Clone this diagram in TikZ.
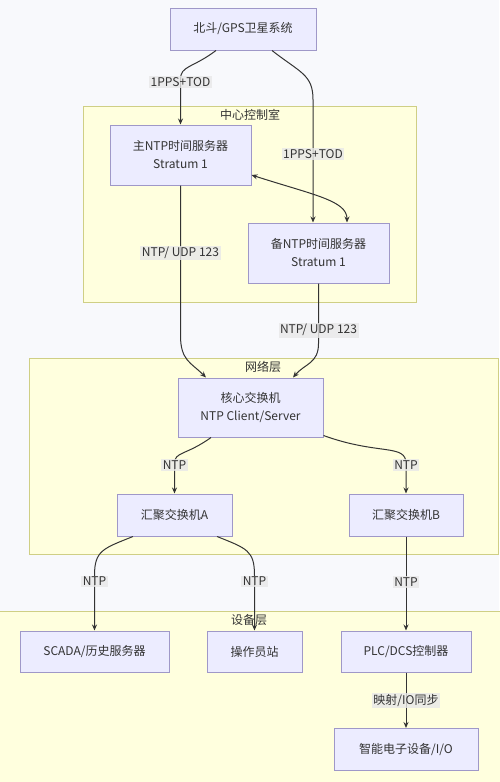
\documentclass[tikz,border=0pt]{standalone}
\usepackage{fontspec}
\setmainfont{Noto Sans CJK SC}
\usetikzlibrary{arrows.meta,calc}
\definecolor{bgcol}{HTML}{F8F9FC}
\definecolor{groupfill}{HTML}{FFFFDE}
\definecolor{groupline}{HTML}{CFCF85}
\definecolor{nodefill}{HTML}{ECECFF}
\definecolor{nodeline}{HTML}{9F98C8}
\definecolor{edgecol}{HTML}{333333}
\definecolor{lblfill}{HTML}{E8E8E8}
\definecolor{textcol}{HTML}{333333}
\begin{document}
\begin{tikzpicture}[x=1pt, y=-1pt,
            font=\fontsize{12}{18}\selectfont,
            box/.style={draw=nodeline, fill=nodefill, text=textcol, align=center, inner sep=0pt, line width=1pt},
            group/.style={draw=groupline, fill=groupfill, line width=1pt},
            grouptitle/.style={text=textcol, inner sep=0pt},
            edge/.style={draw=edgecol, line width=1pt, -{Stealth[length=6pt,width=5pt]}},
            lbl/.style={fill=lblfill, fill opacity=0.8, text opacity=1, inner sep=1.5pt, text=textcol}]

            \fill[bgcol] (0,0) rectangle (499,782);
            \useasboundingbox (0,0) rectangle (499,782);

            \draw[group] (83,106) rectangle (416,302);
            \node[grouptitle] (ctrltitle) at (250,115) {中心控制室};
            \draw[group] (29,358) rectangle (498,554);
            \node[grouptitle] (nettitle) at (263,367) {网络层};
            \draw[group] (-2,611) rectangle (501,784);
            \node[grouptitle] (devtitle) at (249,620) {设备层};

            \node[box, minimum width=146pt, minimum height=42pt] (gps) at (243,29) {北斗/GPS卫星系统};
            \node[box, minimum width=141pt, minimum height=60pt] (main) at (180.5,155) {主NTP时间服务器\\Stratum 1};
            \node[box, minimum width=141pt, minimum height=60pt] (backup) at (318.5,253) {备NTP时间服务器\\Stratum 1};
            \node[box, minimum width=145pt, minimum height=59pt] (core) at (250.5,407.5) {核心交换机\\NTP Client/Server};
            \node[box, minimum width=115pt, minimum height=42pt] (aggA) at (174.5,515) {汇聚交换机A};
            \node[box, minimum width=114pt, minimum height=42pt] (aggB) at (406,515) {汇聚交换机B};
            \node[box, minimum width=149pt, minimum height=41pt] (scada) at (94.5,651.5) {SCADA/历史服务器};
            \node[box, minimum width=95pt, minimum height=41pt] (op) at (254.5,651.5) {操作员站};
            \node[box, minimum width=130pt, minimum height=41pt] (plc) at (406,651.5) {PLC/DCS控制器};
            \node[box, minimum width=144pt, minimum height=42pt] (ied) at (406,749.5) {智能电子设备/I/O};

            \draw[edge] ([xshift=-27pt]gps.south) .. controls +(-24,18) and +(0,-14) .. ($(main.north)+(0,-45)$)
                -- node[lbl, pos=0.05] {1PPS+TOD} (main.north);
            \draw[edge] ([xshift=29pt]gps.south) .. controls +(28,22) and +(0,-25) .. ($(backup.north)+(-5.5,-123)$)
                -- node[lbl, pos=0.44] {1PPS+TOD} ([xshift=-5.5pt]backup.north);
            \draw[edge, {Stealth[length=6pt,width=5pt]}-{Stealth[length=6pt,width=5pt]}] ([yshift=-20pt]main.east)
                .. controls +(62,20) and +(0,-22) .. ([xshift=28.5pt]backup.north);
            \draw[edge] (main.south) -- node[lbl, pos=0.45] {NTP/ UDP 123} ($(main.south)+(0,150)$)
                .. controls +(0,25) and +(-15,-15) .. ([xshift=-44.5pt]core.north);
            \draw[edge] (backup.south) -- node[lbl, pos=0.78] {NTP/ UDP 123} ($(backup.south)+(0,60)$)
                .. controls +(0,20) and +(12,-14) .. ([xshift=42.5pt]core.north);
            \draw[edge] ([xshift=-39.5pt]core.south) .. controls +(-25,18) and +(0,-12) .. ($(aggA.north)+(0,-30)$)
                -- node[lbl, pos=0.05] {NTP} (aggA.north);
            \draw[edge] ([yshift=2pt]core.south east) .. controls +(55,20) and +(0,-20) .. ($(aggB.north)+(0,-30)$)
                -- node[lbl, pos=0.05] {NTP} (aggB.north);
            \draw[edge] ([xshift=-41.5pt]aggA.south) .. controls +(-30,12) and +(0,-25) .. ($(scada.north)+(0,-55)$)
                -- node[lbl, pos=0.11] {NTP} (scada.north);
            \draw[edge] ([xshift=42.5pt]aggA.south) .. controls +(30,12) and +(0,-25) .. ($(op.north)+(0,-55)$)
                -- node[lbl, pos=0.11] {NTP} (op.north);
            \draw[edge] (aggB.south) -- node[lbl, pos=0.48] {NTP} (plc.north);
            \draw[edge] (plc.south) -- node[lbl] {映射/IO同步} (ied.north);
\end{tikzpicture}
\end{document}
